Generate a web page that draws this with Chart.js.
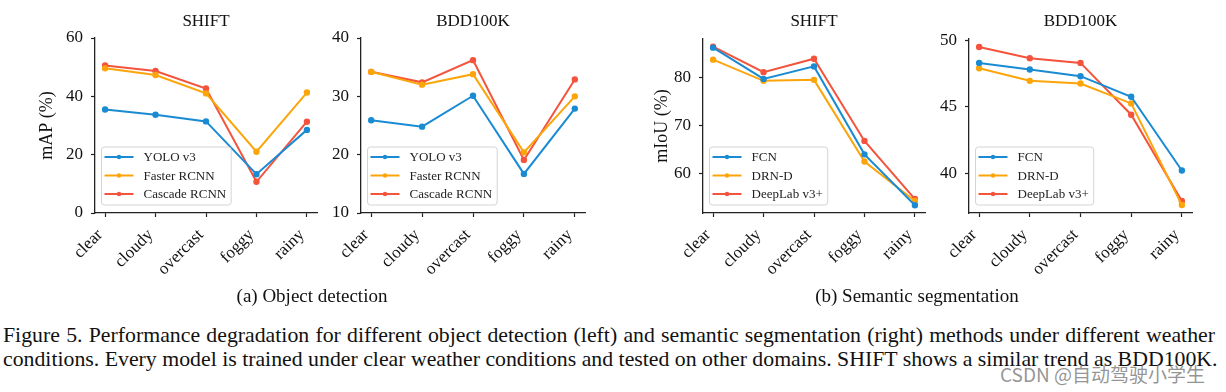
<!DOCTYPE html>
<html>
<head>
<meta charset="utf-8">
<script src="https://cdn.jsdelivr.net/npm/chart.js@4.4.1/dist/chart.umd.min.js"></script>
<style>
  html, body { margin: 0; padding: 0; background: #fff; }
  #page { position: relative; width: 1226px; height: 392px; overflow: hidden; font-family: "Liberation Serif", "Times New Roman", serif; color: #111; }
  canvas { position: absolute; top: 0; }
  .sub { position: absolute; top: 285px; font-size: 19px; white-space: nowrap; transform: translateX(-50%); }
  .cap { position: absolute; left: 3px; width: 1212px; font-size: 21.8px; line-height: 24px; white-space: nowrap; text-align: justify; text-align-last: justify; }
  #mark { position: absolute; left: 1000px; top: 360px; font-family: "Noto Sans CJK SC", sans-serif; font-size: 19px; color: rgba(130,130,130,0.85); white-space: nowrap; }
</style>
</head>
<body>
<div id="page">
  <canvas id="detShift" width="330" height="290" style="left:0px"></canvas>
  <canvas id="detBdd" width="280" height="290" style="left:320px"></canvas>
  <canvas id="segShift" width="340" height="290" style="left:600px"></canvas>
  <canvas id="segBdd" width="301" height="290" style="left:925px"></canvas>

  <div class="sub" style="left:312px">(a) Object detection</div>
  <div class="sub" style="left:917px">(b) Semantic segmentation</div>
  <div class="cap" style="top:323px">Figure 5. Performance degradation for different object detection (left) and semantic segmentation (right) methods under different weather</div>
  <div class="cap" style="top:347px">conditions. Every model is trained under clear weather conditions and tested on other domains. SHIFT shows a similar trend as BDD100K.</div>
  <div id="mark">CSDN @自动驾驶小学生</div>
</div>

<script>
const categories = ["clear", "cloudy", "overcast", "foggy", "rainy"];

// object detection, mAP (%)
const detLabels = ["YOLO v3", "Faster RCNN", "Cascade RCNN"];
const yoloShift = [35.5, 33.7, 31.4, 13.3, 28.5];
const fasterShift = [49.6, 47.3, 41.0, 21.0, 41.3];
const cascadeShift = [50.6, 48.7, 42.7, 10.7, 31.3];
const yoloBdd = [25.9, 24.8, 30.1, 16.7, 27.9];
const fasterBdd = [34.2, 32.0, 33.8, 20.4, 30.0];
const cascadeBdd = [34.2, 32.4, 36.2, 19.1, 32.9];

// semantic segmentation, mIoU (%)
const segLabels = ["FCN", "DRN-D", "DeepLab v3+"];
const fcnShift = [86.2, 79.7, 82.3, 64.0, 53.4];
const drnShift = [83.7, 79.3, 79.5, 62.5, 54.3];
const deeplabShift = [86.4, 81.1, 83.9, 66.8, 54.7];
const fcnBdd = [48.3, 47.8, 47.3, 45.75, 40.2];
const drnBdd = [47.9, 46.95, 46.75, 45.25, 37.6];
const deeplabBdd = [49.5, 48.65, 48.3, 44.4, 37.9];

// y tick labels and axis limits
const detShiftTicks = [0, 20, 40, 60];
const detBddTicks = [10, 20, 30, 40];
const segShiftTicks = [60, 70, 80];
const segBddTicks = [40, 45, 50];
const detShiftRange = [0, 60];
const detBddRange = [10, 40];
const segShiftRange = [51.8, 88.0];
const segBddRange = [37.0, 50.1];

const colors = ["#1a8bd3", "#fca50a", "#f4533c"];
const ink = "#222";
Chart.defaults.font.family = '"Liberation Serif", "Times New Roman", serif';
Chart.defaults.color = "#111";

/* =========================
   PLUGINS: title + boxed legend
========================= */
const panelTitle = {
  id: "panelTitle",
  afterDraw(chart, args, opts) {
    const { ctx, chartArea } = chart;
    ctx.save();
    ctx.font = '17px "Liberation Serif"';
    ctx.fillStyle = "#111";
    ctx.textAlign = "center";
    ctx.textBaseline = "middle";
    ctx.fillText(opts.text, (chartArea.left + chartArea.right) / 2, 22);
    ctx.restore();
  },
};

const boxLegend = {
  id: "boxLegend",
  afterDatasetsDraw(chart) {
    const { ctx, chartArea } = chart;
    const sets = chart.data.datasets;
    ctx.save();
    ctx.font = '13px "Liberation Serif"';
    const textW = Math.max(...sets.map((d) => ctx.measureText(d.label).width));
    const w = textW + 47;
    const h = 58;
    const x = chartArea.left + 6.5;
    const y = chartArea.bottom - 8 - h;

    ctx.beginPath();
    ctx.roundRect(x, y, w, h, 3);
    ctx.fillStyle = "rgba(255,255,255,0.85)";
    ctx.fill();
    ctx.strokeStyle = "#d4d4d4";
    ctx.lineWidth = 1;
    ctx.stroke();

    sets.forEach((d, i) => {
      const cy = y + 10 + i * 18.5;
      ctx.strokeStyle = d.borderColor;
      ctx.lineWidth = 2;
      ctx.beginPath();
      ctx.moveTo(x + 3, cy);
      ctx.lineTo(x + 32, cy);
      ctx.stroke();
      ctx.fillStyle = d.borderColor;
      ctx.beginPath();
      ctx.arc(x + 17.5, cy, 2.2, 0, Math.PI * 2);
      ctx.fill();
      ctx.fillStyle = "#222";
      ctx.textAlign = "left";
      ctx.textBaseline = "middle";
      ctx.fillText(d.label, x + 42, cy + 1);
    });
    ctx.restore();
  },
};

/* =========================
   CHART
========================= */
function lineChart(id, cfg) {
  return new Chart(document.getElementById(id), {
    type: "line",
    data: {
      datasets: cfg.series.map((values, i) => ({
        label: cfg.labels[i],
        data: values.map((v, j) => ({ x: j, y: v })),
        borderColor: colors[i],
        backgroundColor: colors[i],
        borderWidth: 2,
        pointRadius: 2.2,
        pointHoverRadius: 2.2,
        tension: 0,
      })),
    },
    options: {
      responsive: false,
      animation: false,
      events: [],
      layout: { padding: { top: cfg.top, right: cfg.right, left: 0, bottom: 0 } },
      plugins: {
        legend: { display: false },
        tooltip: { enabled: false },
        panelTitle: { text: cfg.title },
      },
      scales: {
        x: {
          type: "linear",
          min: -0.2,
          max: 4.2,
          afterBuildTicks: (sc) => {
            sc.ticks = categories.map((c, i) => ({ value: i }));
          },
          afterFit: (sc) => {
            sc.height = 77;
          },
          ticks: {
            callback: (v) => categories[v],
            minRotation: 45,
            maxRotation: 45,
            autoSkip: false,
            padding: 8,
            labelOffset: -5,
            color: "#111",
            font: { size: 17 },
          },
          grid: { drawOnChartArea: false, drawTicks: true, tickLength: 4, tickColor: ink, tickWidth: 1.2 },
          border: { color: ink, width: 1.3 },
        },
        y: {
          min: cfg.range[0],
          max: cfg.range[1],
          afterBuildTicks: (sc) => {
            sc.ticks = cfg.ticks.map((v) => ({ value: v }));
          },
          afterFit: (sc) => {
            sc.width = cfg.yWidth;
          },
          ticks: { padding: 8, color: "#111", font: { size: 17 } },
          grid: { drawOnChartArea: false, drawTicks: true, tickLength: 4, tickColor: ink, tickWidth: 1.2 },
          border: { color: ink, width: 1.3 },
          title: {
            display: !!cfg.yTitle,
            text: cfg.yTitle,
            color: "#111",
            font: { size: 18 },
            padding: { top: cfg.yTitlePad || 0, bottom: 0 },
          },
        },
      },
    },
    plugins: [panelTitle, boxLegend],
  });
}

lineChart("detShift", {
  title: "SHIFT",
  labels: detLabels,
  series: [yoloShift, fasterShift, cascadeShift],
  ticks: detShiftTicks,
  range: detShiftRange,
  yTitle: "mAP (%)",
  yTitlePad: 36,
  yWidth: 95,
  top: 38,
  right: 13,
});

lineChart("detBdd", {
  title: "BDD100K",
  labels: detLabels,
  series: [yoloBdd, fasterBdd, cascadeBdd],
  ticks: detBddTicks,
  range: detBddRange,
  yWidth: 41,
  top: 38,
  right: 15,
});

lineChart("segShift", {
  title: "SHIFT",
  labels: segLabels,
  series: [fcnShift, drnShift, deeplabShift],
  ticks: segShiftTicks,
  range: segShiftRange,
  yTitle: "mIoU (%)",
  yTitlePad: 51,
  yWidth: 103,
  top: 39,
  right: 15,
});

lineChart("segBdd", {
  title: "BDD100K",
  labels: segLabels,
  series: [fcnBdd, drnBdd, deeplabBdd],
  ticks: segBddTicks,
  range: segBddRange,
  yWidth: 44,
  top: 39,
  right: 34,
});
</script>
</body>
</html>
